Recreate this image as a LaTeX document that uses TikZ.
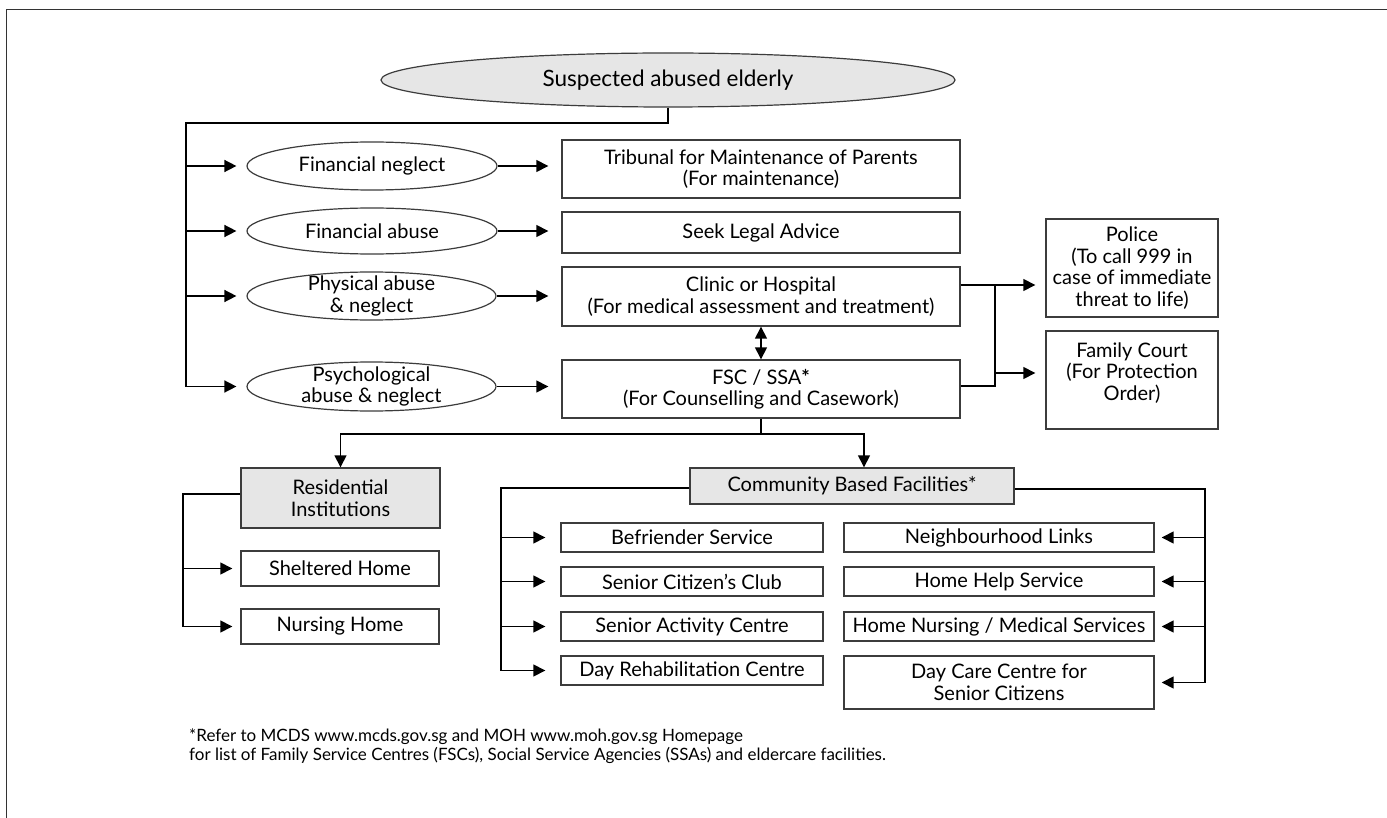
\documentclass[tikz,border=0pt]{standalone}
\usepackage{fontspec}
\setmainfont{Lato}
\usetikzlibrary{shapes.geometric,arrows.meta}
\definecolor{fillg}{HTML}{E6E6E6}
\definecolor{edge}{HTML}{3C3C3C}
\begin{document}
\begin{tikzpicture}[x=1pt,y=-1pt,
  txt/.style={font=\fontsize{20}{21.5}\selectfont},
  box/.style={draw=edge,line width=1.4pt,fill=white,rectangle,align=center,inner sep=0pt,txt},
  gbox/.style={box,fill=fillg},
  ell/.style={draw=edge,line width=1.2pt,fill=white,ellipse,align=center,inner xsep=0pt,inner ysep=-8pt,txt},
  conn/.style={line width=1.5pt,draw=black},
  arr/.style={conn,-{Triangle[length=12pt,width=12pt]}},
  darr/.style={conn,{Triangle[length=12pt,width=12pt]}-{Triangle[length=12pt,width=12pt]}},
  ctext/.style={align=center,inner sep=0pt,txt},
  foot/.style={align=left,anchor=west,inner sep=0pt,font=\fontsize{17}{19}\selectfont}
]
\path[use as bounding box,fill=white] (0,0) rectangle (1387,818);
\draw[line width=1pt,draw=black!80] (6,818) -- (6,10) -- (1387,10);

% top
\node[ell,fill=fillg,minimum width=574pt,minimum height=54pt,font=\fontsize{22.5}{24}\selectfont] (top) at (668,80) {Suspected abused elderly};

% abuse types
\node[ell,minimum width=250pt,minimum height=48pt] (fn) at (372,166) {Financial neglect};
\node[ell,minimum width=250pt,minimum height=46pt] (fa) at (372,231) {Financial abuse};
\node[ell,minimum width=249pt,minimum height=48pt] (pa) at (371.5,296) {Physical abuse\\\& neglect};
\node[ell,minimum width=249pt,minimum height=49pt] (ps) at (371.5,386.5) {Psychological\\abuse \& neglect};

% services
\node[box,minimum width=398pt,minimum height=58pt] (trib) at (761,169) {Tribunal for Maintenance of Parents\\(For maintenance)};
\node[box,minimum width=398pt,minimum height=41pt] (seek) at (761,232.5) {Seek Legal Advice};
\node[box,minimum width=398pt,minimum height=59pt] (clinic) at (761,296.5) {Clinic or Hospital\\(For medical assessment and treatment)};
\node[box,minimum width=398pt,minimum height=58pt] (fsc) at (761,389) {FSC / SSA\textbf{*}\\(For Counselling and Casework)};

\node[box,minimum width=172pt,minimum height=98pt] (police) at (1132,268) {Police\\(To call 999 in\\case of immediate\\threat to life)};
\node[box,minimum width=172pt,minimum height=98pt] (court) at (1132,380) {};
\node[ctext] (courtt) at (1132,373) {Family Court\\(For Protection\\Order)};

% facilities
\node[gbox,minimum width=199pt,minimum height=60pt] (resi) at (340.5,498) {Residential\\Institutions};
\node[box,minimum width=198pt,minimum height=35pt] (shelt) at (340,568.5) {Sheltered Home};
\node[box,minimum width=198pt,minimum height=35pt] (nurse) at (340,626.5) {Nursing Home};

\node[gbox,minimum width=324pt,minimum height=36pt] (comm) at (852,486) {Community Based Facilities*};
\node[box,minimum width=262pt,minimum height=29pt] (bef) at (692,537.5) {Befriender Service};
\node[box,minimum width=262pt,minimum height=29pt] (scc) at (692,581.5) {Senior Citizen’s Club};
\node[box,minimum width=262pt,minimum height=29pt] (sac) at (692,626.5) {Senior Activity Centre};
\node[box,minimum width=262pt,minimum height=29pt] (drc) at (692,670.5) {Day Rehabilitation Centre};

\node[box,minimum width=310pt,minimum height=29pt] (nl) at (999,537.5) {Neighbourhood Links};
\node[box,minimum width=310pt,minimum height=29pt] (hhs) at (999,581.5) {Home Help Service};
\node[box,minimum width=310pt,minimum height=29pt] (hnms) at (999,626.5) {Home Nursing / Medical Services};
\node[box,minimum width=310pt,minimum height=53pt] (dcc) at (999,682.5) {Day Care Centre for\\Senior Citizens};

% footnote
\node[foot] (fn1) at (189,737) {*Refer to MCDS www.mcds.gov.sg and MOH www.moh.gov.sg Homepage};
\node[foot] (fn2) at (189,755) {for list of Family Service Centres (FSCs), Social Service Agencies (SSAs) and eldercare facilities.};

% coordinates
\coordinate (bt) at (186,123);
\coordinate (pj) at (995,285);
\coordinate (fj) at (995,386);
\coordinate (cj) at (995,373);
\coordinate (sp) at (761,434);
\coordinate (cd) at (864,434);
\coordinate (rb) at (183,494);
\coordinate (lb) at (501,488);
\coordinate (rr) at (1205,489);

% main bus
\draw[conn] (top.south) |- (bt) -- (bt |- ps.west);
\foreach \e in {fn,fa,pa,ps}
  \draw[arr,shorten >=10pt] (bt |- \e.west) -- (\e.west);
\draw[arr,shorten >=13pt] (fn.east) -- (fn.east -| trib.west);
\draw[arr,shorten >=13pt] (fa.east) -- (fa.east -| seek.west);
\draw[arr,shorten >=13pt] (pa.east) -- (pa.east -| clinic.west);
\draw[arr,shorten >=13pt] (ps.east) -- (ps.east -| fsc.west);

\draw[darr] (clinic.south) -- (fsc.north);

\draw[conn] (clinic.east |- pj) -- (pj) -- (fj) -- (fsc.east |- fj);
\draw[arr,shorten >=10pt] (pj) -- (police.west |- pj);
\draw[arr,shorten >=10pt] (cj) -- (court.west |- cj);

\draw[conn] (fsc.south) -- (sp);
\draw[arr] (sp) -| (resi.north);
\draw[arr] (sp) -- (cd) -- (cd |- comm.north);

\draw[conn] (resi.west |- rb) -- (rb) -- (rb |- nurse.west);
\foreach \e in {shelt,nurse}
  \draw[arr,shorten >=8pt] (rb |- \e.west) -- (\e.west);

\draw[conn] (comm.west |- lb) -- (lb) -- (lb |- drc.west);
\foreach \e in {bef,scc,sac,drc}
  \draw[arr,shorten >=15pt] (lb |- \e.west) -- (\e.west);

\draw[conn] (comm.east |- rr) -- (rr) -- (rr |- dcc.east);
\foreach \e in {nl,hhs,hnms,dcc}
  \draw[arr,shorten >=7pt] (rr |- \e.east) -- (\e.east);
\end{tikzpicture}
\end{document}
